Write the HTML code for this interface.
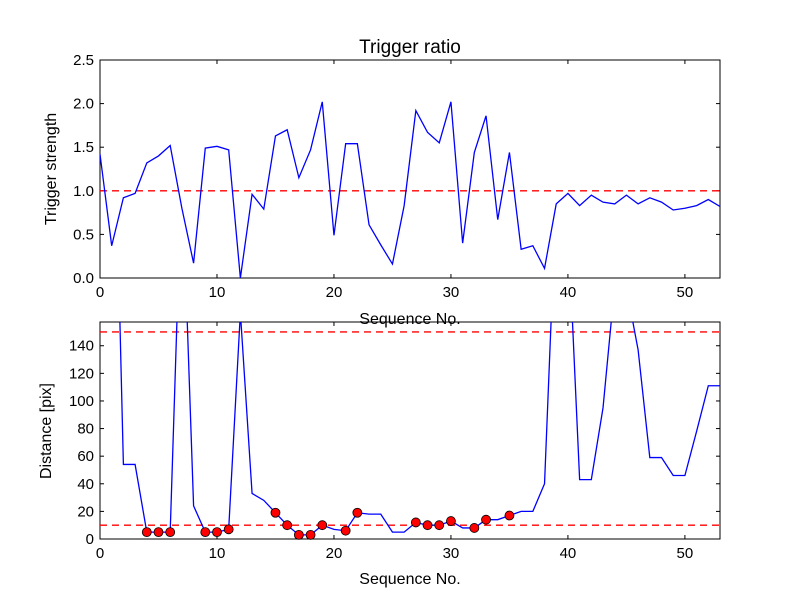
<!DOCTYPE html>
<html><head><meta charset="utf-8"><style>
body{margin:0;background:#fff}
svg{display:block;font-family:"Liberation Sans","DejaVu Sans",sans-serif}
</style></head><body>
<svg id="chart" width="800" height="600">
<rect width="800" height="600" fill="#fff"/>
<defs>
<clipPath id="c1"><rect x="100" y="60" width="620" height="218"/></clipPath>
<clipPath id="c2"><rect x="100" y="322" width="620" height="217"/></clipPath>
</defs>
<g id="g"></g>
</svg>
<script>
const strength = [1.42,0.37,0.92,0.97,1.32,1.40,1.52,0.80,0.17,1.49,1.51,1.47,0.0,0.96,0.79,1.63,1.70,1.15,1.47,2.02,0.49,1.54,1.54,0.61,0.38,0.16,0.83,1.92,1.67,1.55,2.02,0.40,1.44,1.86,0.67,1.44,0.33,0.37,0.11,0.85,0.97,0.83,0.95,0.87,0.85,0.95,0.85,0.92,0.87,0.78,0.80,0.83,0.90,0.82];
const distance = [400,400,54,54,5,5,5,270,24,5,5,7,164,33,28,19,10,3,3,10,7,6,19,18,18,5,5,12,10,10,13,8,8,14,14,17,20,20,40,250,230,43,43,95,184,182,137,59,59,46,46,78,111,111];
const dotMask = [0,0,0,0,1,1,1,0,0,1,1,1,0,0,0,1,1,1,1,1,0,1,1,0,0,0,0,1,1,1,1,0,1,1,0,1,0,0,0,0,0,0,0,0,0,0,0,0,0,0,0,0,0,0];
const xTicks = [0,10,20,30,40,50];
const yTicksTop = [0.0,0.5,1.0,1.5,2.0,2.5];
const yTicksBot = [0,20,40,60,80,100,120,140];
const thrTop = [1.0];
const thrBot = [10,150];

const NS="http://www.w3.org/2000/svg", G=document.getElementById('g');
function el(t,a,p){const e=document.createElementNS(NS,t);for(const k in a)e.setAttribute(k,a[k]);(p||G).appendChild(e);return e;}
const L=100,R=720;
const sx=v=>L+v*(R-L)/53;
const T1=60,B1=278,sy1=v=>B1-v*(B1-T1)/2.5;
const T2=322,B2=539,sy2=v=>B2-v*(B2-T2)/157.2;

function axes(T,B,sy,yt,fmt,name){
  for(const t of xTicks){const x=sx(t);
    let a=el('line',{x1:x,x2:x,y1:B,y2:B-4,stroke:'#000'});
    el('line',{x1:x,x2:x,y1:T,y2:T+4,stroke:'#000'});
    const tx=el('text',{x:x,y:B+19,'font-size':15,'text-anchor':'middle'});tx.textContent=t;
    }
  for(const t of yt){const y=sy(t);
    el('line',{x1:L,x2:L+4,y1:y,y2:y,stroke:'#000'});el('line',{x1:R,x2:R-4,y1:y,y2:y,stroke:'#000'});
    const tx=el('text',{x:L-6,y:y+5,'font-size':15,'text-anchor':'end'});tx.textContent=fmt(t);
    }
  const r=el('rect',{x:L,y:T,width:R-L,height:B-T,fill:'none',stroke:'#000','stroke-width':1});
  
}
function txt(s,a,name){const t=el('text',a);t.textContent=s;}

// top
axes(T1,B1,sy1,yTicksTop,v=>v.toFixed(1),'top-axes');
const c1=el('g',{'clip-path':'url(#c1)'});
for(const h of thrTop){const l=el('line',{x1:L,x2:R,y1:sy1(h),y2:sy1(h),stroke:'red','stroke-dasharray':'7,5','stroke-width':1.3},c1);
  }
const p1=el('polyline',{points:strength.map((v,i)=>sx(i)+','+sy1(v)).join(' '),fill:'none',stroke:'blue','stroke-width':1.3},c1);

txt('Trigger ratio',{x:410,y:53,'font-size':19,'text-anchor':'middle'},'chart-title');
txt('Trigger strength',{x:56,y:169,'font-size':16,'text-anchor':'middle',transform:'rotate(-90 56 169)'},'top-y-axis-title');
txt('Sequence No.',{x:410,y:324,'font-size':16,'text-anchor':'middle'},'top-x-axis-title');

// bottom
axes(T2,B2,sy2,yTicksBot,v=>String(v),'bottom-axes');
const c2=el('g',{'clip-path':'url(#c2)'});
for(const h of thrBot){const l=el('line',{x1:L,x2:R,y1:sy2(h),y2:sy2(h),stroke:'red','stroke-dasharray':'7,5','stroke-width':1.3},c2);
  }
const p2=el('polyline',{points:distance.map((v,i)=>sx(i)+','+sy2(v)).join(' '),fill:'none',stroke:'blue','stroke-width':1.3},c2);

distance.forEach((v,i)=>{if(!dotMask[i])return;
  const c=el('circle',{cx:sx(i),cy:sy2(v),r:4.5,fill:'red',stroke:'#000','stroke-width':0.8});
  
  });
txt('Distance [pix]',{x:51,y:431,'font-size':16,'text-anchor':'middle',transform:'rotate(-90 51 431)'},'bottom-y-axis-title');
txt('Sequence No.',{x:410,y:584,'font-size':16,'text-anchor':'middle'},'bottom-x-axis-title');
</script>
</body></html>
